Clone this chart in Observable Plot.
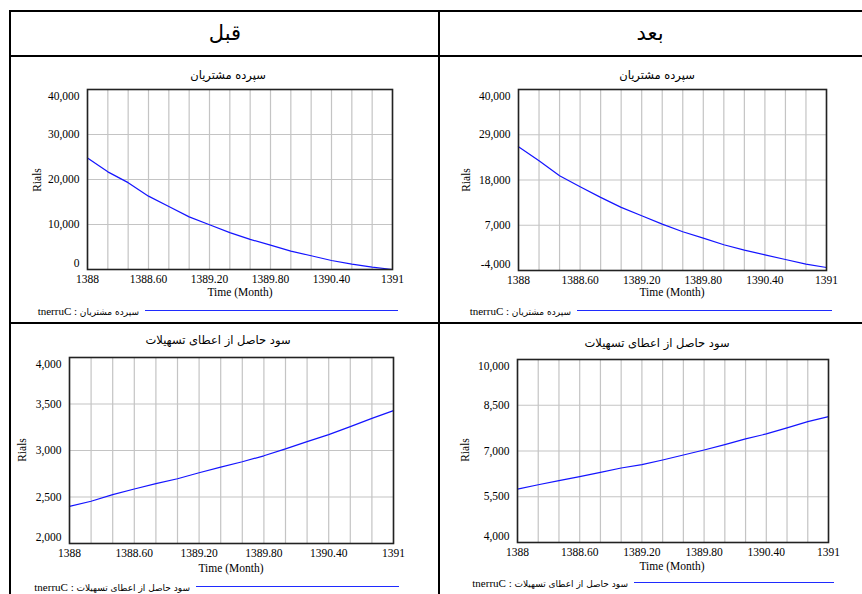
<!DOCTYPE html>
<html>
<head>
<meta charset="utf-8">
<script src="https://cdn.jsdelivr.net/npm/d3@7"></script>
<script src="https://cdn.jsdelivr.net/npm/@observablehq/plot@0.6"></script>
<style>
  html, body { margin: 0; padding: 0; background: #fff; }
  body { width: 862px; height: 594px; position: relative; overflow: hidden; }
  .rule { position: absolute; background: #000; }
  .txt { position: absolute; white-space: nowrap; transform: translate(-50%, -50%); color: #000; }
  .head { font-family: "DejaVu Sans", sans-serif; font-size: 21px; }
  .title { font-family: "DejaVu Sans", sans-serif; font-size: 11.5px; }
  .serif { font-family: "Liberation Serif", "DejaVu Serif", serif; font-size: 11.5px; }
  .ylab { transform: translate(-50%, -50%) rotate(-90deg); }
  .legend { position: absolute; white-space: nowrap; transform: translate(-100%, -50%); direction: ltr; }
  .legend .en { font-family: "Liberation Serif", "DejaVu Serif", serif; font-size: 11px; }
  .legend .fa { font-family: "DejaVu Sans", sans-serif; font-size: 9px; }
  .swatch { position: absolute; height: 0; border-top: 1.5px solid #1f2bff; }
  .panel { position: absolute; }
</style>
</head>
<body>
<script>
// Simulation time axis (months) and the four simulated series
const months = [1388, 1388.2, 1388.4, 1388.6, 1388.8, 1389, 1389.2, 1389.4, 1389.6, 1389.8, 1390, 1390.2, 1390.4, 1390.6, 1390.8, 1391];
const depositBefore = [24800, 21700, 19300, 16300, 14000, 11700, 9950, 8200, 6700, 5400, 4100, 3050, 2000, 1200, 520, 0];
const depositAfter = [26100, 22700, 19050, 16380, 13780, 11340, 9310, 7280, 5420, 3870, 2250, 950, -190, -1320, -2460, -3270];
const loanProfitBefore = [2400, 2454, 2525, 2586, 2643, 2696, 2761, 2821, 2879, 2943, 3018, 3096, 3171, 3257, 3346, 3429];
const loanProfitAfter = [5752, 5894, 6026, 6157, 6300, 6442, 6551, 6705, 6869, 7033, 7208, 7395, 7559, 7756, 7964, 8128];

// Axis ticks and labels
const xTicks = [1388, 1388.6, 1389.2, 1389.8, 1390.4, 1391];
const xTickLabels = ["1388", "1388.60", "1389.20", "1389.80", "1390.40", "1391"];
const depositBeforeTicks = [0, 10000, 20000, 30000, 40000];
const depositAfterTicks = [-4000, 7000, 18000, 29000, 40000];
const loanBeforeTicks = [2000, 2500, 3000, 3500, 4000];
const loanAfterTicks = [4000, 5500, 7000, 8500, 10000];

// Text
const columnHeads = ["قبل", "بعد"];
const depositTitle = "سپرده مشتریان";
const loanTitle = "سود حاصل از اعطای تسهیلات";
const yLabel = "Rials";
const xLabel = "Time (Month)";
const legendPrefix = "tnerruC : ";

const body = document.body;
const serifFont = "Liberation Serif, DejaVu Serif, serif";

function rule(x, y, w, h) {
  const d = document.createElement("div");
  d.className = "rule";
  Object.assign(d.style, {left: x + "px", top: y + "px", width: w + "px", height: h + "px"});
  body.appendChild(d);
}
function text(str, cls, x, y) {
  const d = document.createElement("div");
  d.className = "txt " + cls;
  d.textContent = str;
  Object.assign(d.style, {left: x + "px", top: y + "px"});
  body.appendChild(d);
}
// Legend entry: label ending just before a swatch line
function legend(name, y, lineFrom, lineTo) {
  const d = document.createElement("div");
  d.className = "legend";
  d.style.left = (lineFrom - 6) + "px";
  d.style.top = y + "px";
  const en = document.createElement("span");
  en.className = "en";
  en.textContent = legendPrefix;
  const fa = document.createElement("span");
  fa.className = "fa";
  fa.textContent = name;
  d.append(en, fa);
  body.appendChild(d);
  const s = document.createElement("div");
  s.className = "swatch";
  Object.assign(s.style, {left: lineFrom + "px", top: (y - 0.5) + "px", width: (lineTo - lineFrom) + "px"});
  body.appendChild(s);
}

// Table frame
rule(9, 10, 860, 2);
rule(9, 55, 860, 2);
rule(9, 322, 860, 2);
rule(9, 10, 2, 600);
rule(438, 10, 2, 600);

text(columnHeads[0], "head", 225, 33);
text(columnHeads[1], "head", 650, 33);

const xFormat = (v) => xTickLabels[xTicks.findIndex((t) => Math.abs(t - v) < 1e-9)];
const yFormat = (v) => d3.format(",")(v).replace("\u2212", "-");

function panel({values, yDomain, yTicks, left, top, width, height, margins}) {
  const rows = months.map((m, i) => ({month: m, value: values[i]}));
  const yAxis = {tickSize: 0, tickPadding: 8, tickFormat: yFormat, label: null, fill: "#000", fontSize: 11.5, fontFamily: serifFont};
  const chart = Plot.plot({
    width, height,
    marginLeft: margins[0], marginRight: margins[1], marginTop: margins[2], marginBottom: margins[3],
    style: {fontFamily: serifFont, fontSize: "11.5px", color: "#000", background: "transparent"},
    x: {domain: [1388, 1391]},
    y: {domain: yDomain},
    marks: [
      Plot.gridX(months, {stroke: "#c4c4c4", strokeOpacity: 1, strokeWidth: 1.2}),
      Plot.gridY(yTicks, {stroke: "#c4c4c4", strokeOpacity: 1, strokeWidth: 1.2}),
      Plot.line(rows, {x: "month", y: "value", stroke: "#1414ff", strokeWidth: 1.2}),
      Plot.frame({stroke: "#222", strokeWidth: 1.6}),
      Plot.axisX(xTicks, {tickSize: 0, tickPadding: 5, tickFormat: xFormat, label: null, fill: "#000", fontSize: 11.5, fontFamily: serifFont}),
      // end labels sit just inside the frame, the rest on their grid lines
      Plot.axisY(yTicks.slice(1, -1), yAxis),
      Plot.axisY(yTicks.slice(0, 1), {...yAxis, dy: -6}),
      Plot.axisY(yTicks.slice(-1), {...yAxis, dy: 7})
    ]
  });
  chart.classList.add("panel");
  chart.style.left = left + "px";
  chart.style.top = top + "px";
  body.appendChild(chart);
}

// Customer deposits, before
panel({values: depositBefore, yDomain: [0, 40000], yTicks: depositBeforeTicks,
  left: 20, top: 80, width: 410, height: 220, margins: [67, 38, 9, 31]});
text(depositTitle, "title", 228, 75);
text(yLabel, "serif ylab", 37, 180);
text(xLabel, "serif", 240, 292);
legend(depositTitle, 310, 145, 398);

// Customer deposits, after
panel({values: depositAfter, yDomain: [-4000, 40000], yTicks: depositAfterTicks,
  left: 445, top: 80, width: 410, height: 220, margins: [73, 29, 9, 30]});
text(depositTitle, "title", 657, 75);
text(yLabel, "serif ylab", 466, 180);
text(xLabel, "serif", 672, 292);
legend(depositTitle, 310, 577, 832);

// Profit from loans, before
panel({values: loanProfitBefore, yDomain: [2000, 4000], yTicks: loanBeforeTicks,
  left: 12, top: 350, width: 420, height: 215, margins: [57, 39, 7, 22]});
text(loanTitle, "title", 218, 340);
text(yLabel, "serif ylab", 22, 450);
text(xLabel, "serif", 231, 568);
legend(loanTitle, 586, 196, 399);

// Profit from loans, after
panel({values: loanProfitAfter, yDomain: [4000, 10000], yTicks: loanAfterTicks,
  left: 445, top: 350, width: 410, height: 215, margins: [72, 27, 9, 23]});
text(loanTitle, "title", 657, 343);
text(yLabel, "serif ylab", 465, 450);
text(xLabel, "serif", 672, 566);
legend(loanTitle, 582, 634, 834);
</script>
</body>
</html>
